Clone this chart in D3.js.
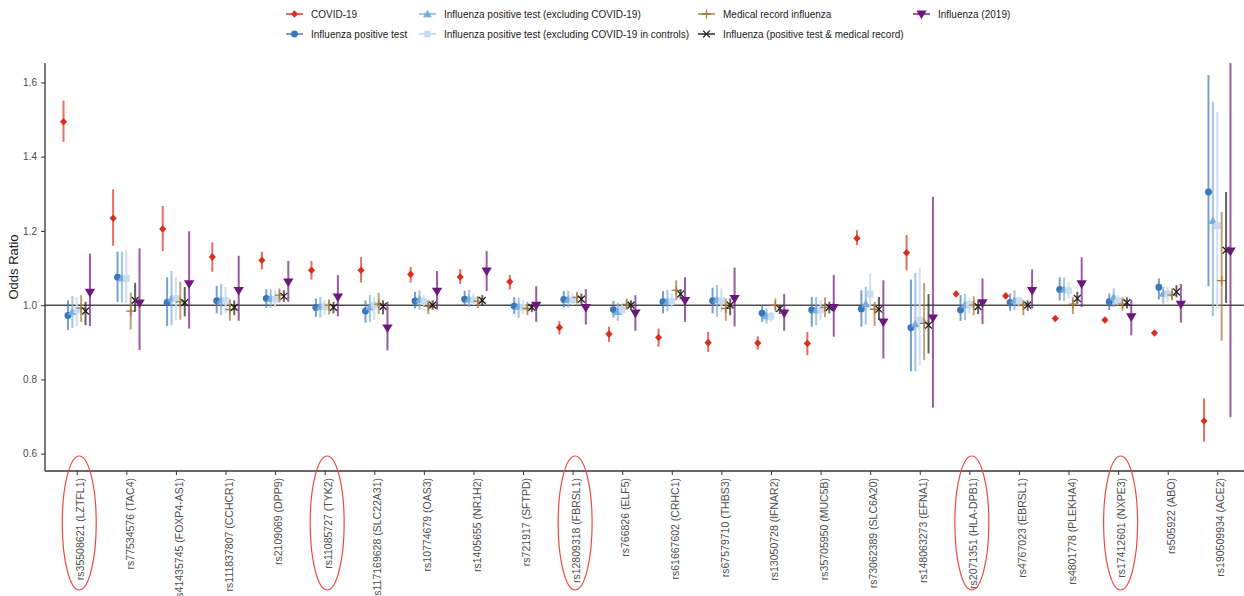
<!DOCTYPE html>
<html>
<head>
<meta charset="utf-8">
<script src="https://d3js.org/d3.v7.min.js"></script>
<style>
    html, body { margin: 0; padding: 0; background: #fff; }
    svg { display: block; font-family: "Liberation Sans", Arial, sans-serif; }
</style>
</head>
<body>
<script>
// SNP categories along the x axis
var snps = [
    "rs35508621 (LZTFL1)", "rs77534576 (TAC4)", "rs41435745 (FOXP4-AS1)", "rs111837807 (CCHCR1)",
    "rs2109069 (DPP9)", "rs11085727 (TYK2)", "rs117169628 (SLC22A31)", "rs10774679 (OAS3)",
    "rs1405655 (NR1H2)", "rs721917 (SFTPD)", "rs12809318 (FBRSL1)", "rs766826 (ELF5)",
    "rs61667602 (CRHC1)", "rs67579710 (THBS3)", "rs13050728 (IFNAR2)", "rs35705950 (MUC5B)",
    "rs73062389 (SLC6A20)", "rs148063273 (EFNA1)", "rs2071351 (HLA-DPB1)", "rs4767023 (EBRSL1)",
    "rs4801778 (PLEKHA4)", "rs17412601 (NXPE3)", "rs505922 (ABO)", "rs190509934 (ACE2)"
];

// labels circled in red
var circled = ["rs35508621 (LZTFL1)", "rs11085727 (TYK2)", "rs12809318 (FBRSL1)",
    "rs2071351 (HLA-DPB1)", "rs17412601 (NXPE3)"];

// [odds ratio, lower CI, upper CI] per SNP
var covid19 = [
    [1.494, 1.440, 1.551], [1.234, 1.160, 1.312], [1.205, 1.146, 1.267], [1.130, 1.090, 1.169],
    [1.121, 1.096, 1.144], [1.094, 1.069, 1.119], [1.094, 1.061, 1.129], [1.083, 1.061, 1.103],
    [1.076, 1.057, 1.097], [1.063, 1.042, 1.081], [0.940, 0.921, 0.957], [0.922, 0.901, 0.942],
    [0.913, 0.888, 0.937], [0.899, 0.874, 0.928], [0.898, 0.880, 0.916], [0.897, 0.865, 0.928],
    [1.180, 1.162, 1.202], [1.141, 1.094, 1.189], [1.030, 1.024, 1.036], [1.025, 1.019, 1.031],
    [0.964, 0.958, 0.970], [0.960, 0.954, 0.966], [0.925, 0.919, 0.931], [0.688, 0.632, 0.749]
];
var fluPositive = [
    [0.972, 0.933, 1.013], [1.075, 1.009, 1.144], [1.007, 0.944, 1.075], [1.012, 0.978, 1.052],
    [1.018, 0.993, 1.043], [0.994, 0.968, 1.018], [0.984, 0.953, 1.013], [1.011, 0.991, 1.036],
    [1.016, 1.000, 1.039], [0.997, 0.976, 1.022], [1.015, 0.994, 1.038], [0.988, 0.967, 1.011],
    [1.009, 0.978, 1.038], [1.012, 0.978, 1.047], [0.978, 0.955, 1.000], [0.987, 0.942, 1.022],
    [0.990, 0.942, 1.040], [0.939, 0.822, 1.069], [0.987, 0.958, 1.027], [1.007, 0.985, 1.031],
    [1.042, 1.013, 1.075], [1.009, 0.987, 1.031], [1.048, 1.015, 1.072], [1.305, 1.051, 1.620]
];
var fluExclCovid = [
    [0.982, 0.938, 1.025], [1.073, 1.007, 1.144], [1.018, 0.946, 1.092], [1.013, 0.973, 1.058],
    [1.018, 0.993, 1.043], [0.996, 0.967, 1.022], [0.995, 0.955, 1.027], [1.015, 0.988, 1.040],
    [1.016, 0.995, 1.041], [0.996, 0.965, 1.020], [1.015, 0.994, 1.038], [0.982, 0.958, 1.007],
    [1.009, 0.983, 1.041], [1.015, 0.968, 1.054], [0.971, 0.950, 0.991], [0.987, 0.946, 1.022],
    [1.003, 0.948, 1.050], [0.949, 0.822, 1.087], [1.000, 0.960, 1.030], [1.013, 0.987, 1.040],
    [1.042, 1.011, 1.075], [1.021, 0.995, 1.045], [1.031, 1.004, 1.049], [1.227, 0.970, 1.548]
];
var fluExclCovidControls = [
    [0.987, 0.942, 1.022], [1.072, 1.006, 1.148], [1.018, 0.960, 1.076], [1.013, 0.978, 1.049],
    [1.016, 0.995, 1.040], [0.996, 0.973, 1.013], [1.000, 0.960, 1.021], [1.010, 0.995, 1.027],
    [1.014, 1.000, 1.031], [0.994, 0.976, 1.013], [1.014, 1.000, 1.031], [0.988, 0.975, 1.002],
    [1.010, 0.994, 1.031], [1.012, 0.982, 1.045], [0.970, 0.955, 0.982], [0.987, 0.960, 1.013],
    [1.030, 0.995, 1.084], [0.960, 0.838, 1.099], [1.002, 0.978, 1.018], [1.012, 0.994, 1.022],
    [1.039, 1.018, 1.063], [1.012, 1.000, 1.027], [1.031, 1.009, 1.049], [1.214, 0.990, 1.521]
];
var medicalRecord = [
    [0.992, 0.955, 1.027], [0.984, 0.934, 1.034], [1.009, 0.961, 1.063], [0.988, 0.958, 1.016],
    [1.027, 1.007, 1.045], [1.000, 0.975, 1.016], [1.003, 0.976, 1.033], [0.997, 0.976, 1.013],
    [1.011, 0.991, 1.024], [0.991, 0.973, 1.009], [1.021, 1.004, 1.036], [1.002, 0.987, 1.018],
    [1.040, 1.013, 1.067], [0.991, 0.958, 1.018], [1.000, 0.982, 1.018], [0.994, 0.968, 1.021],
    [0.989, 0.944, 1.009], [0.951, 0.852, 1.060], [1.000, 0.973, 1.024], [1.000, 0.973, 1.013],
    [1.003, 0.976, 1.022], [1.003, 0.985, 1.021], [1.027, 1.013, 1.045], [1.066, 0.904, 1.251]
];
var fluTestAndRecord = [
    [0.984, 0.946, 1.009], [1.013, 0.982, 1.060], [1.007, 0.970, 1.049], [0.994, 0.973, 1.013],
    [1.024, 1.009, 1.040], [0.994, 0.978, 1.009], [0.997, 0.975, 1.013], [1.000, 0.988, 1.013],
    [1.013, 1.000, 1.027], [0.994, 0.981, 1.004], [1.016, 1.003, 1.031], [1.000, 0.987, 1.013],
    [1.030, 1.016, 1.043], [1.000, 0.973, 1.018], [0.991, 0.976, 1.000], [0.994, 0.978, 1.009],
    [0.989, 0.960, 1.022], [0.946, 0.870, 1.030], [0.996, 0.976, 1.013], [1.000, 0.985, 1.013],
    [1.018, 1.004, 1.036], [1.007, 0.991, 1.021], [1.036, 1.021, 1.054], [1.148, 1.006, 1.305]
];
var flu2019 = [
    [1.035, 0.944, 1.139], [1.006, 0.879, 1.153], [1.058, 0.937, 1.199], [1.040, 0.958, 1.133],
    [1.063, 1.009, 1.119], [1.022, 0.970, 1.081], [0.939, 0.878, 1.009], [1.038, 0.988, 1.092],
    [1.092, 1.038, 1.146], [1.000, 0.955, 1.051], [0.994, 0.948, 1.043], [0.979, 0.931, 1.027],
    [1.013, 0.955, 1.075], [1.018, 0.943, 1.101], [0.979, 0.931, 1.030], [0.994, 0.915, 1.081],
    [0.955, 0.856, 1.067], [0.966, 0.724, 1.292], [1.007, 0.949, 1.072], [1.040, 0.991, 1.096],
    [1.058, 0.995, 1.129], [0.969, 0.919, 1.015], [1.003, 0.953, 1.057], [1.146, 0.698, 1.660]
];

var seriesNames = [
    "COVID-19",
    "Influenza positive test",
    "Influenza positive test (excluding COVID-19)",
    "Influenza positive test (excluding COVID-19 in controls)",
    "Medical record influenza",
    "Influenza (positive test & medical record)",
    "Influenza (2019)"
];
var seriesData = [covid19, fluPositive, fluExclCovid, fluExclCovidControls,
    medicalRecord, fluTestAndRecord, flu2019];

var yTicks = [0.6, 0.8, 1.0, 1.2, 1.4, 1.6];

(function () {
    "use strict";

    var width = 1244, height = 596;
    var margin = {top: 63, right: -3, bottom: 125, left: 45};
    var plotW = width - margin.left - margin.right;
    var plotH = height - margin.top - margin.bottom;

    // look of each series
    var styles = [
        {color: "#d7301f", shape: "diamond"},
        {color: "#3a78bb", shape: "circle"},
        {color: "#78acdb", shape: "triangle"},
        {color: "#c8dcf0", shape: "square"},
        {color: "#a8773c", shape: "plus"},
        {color: "#1e1e1e", shape: "cross"},
        {color: "#6b1a7b", shape: "down"}
    ];

    var shapes = {
        diamond: "M0,-3.8L3.6,0L0,3.8L-3.6,0Z",
        circle: d3.symbol().type(d3.symbolCircle).size(38)(),
        triangle: "M0,-4.3L4.4,3.2L-4.4,3.2Z",
        square: "M-3.3,-3.3H3.3V3.3H-3.3Z",
        plus: "M-4.6,0H4.6M0,-4.6V4.6",
        cross: "M-3.4,-3.4L3.4,3.4M-3.4,3.4L3.4,-3.4",
        down: "M-5.2,-3.4H5.2L0,5.3Z"
    };
    var stroked = {plus: true, cross: true};

    var svg = d3.select("body").append("svg")
            .attr("width", width)
            .attr("height", height);

    var g = svg.append("g")
            .attr("transform", "translate(" + margin.left + "," + margin.top + ")");

    var x = d3.scalePoint()
            .domain(snps)
            .range([0, plotW + 2])
            .padding(0.64);

    var y = d3.scaleLinear()
            .domain([0.5533, 1.6523])
            .range([plotH, 0]);

    var dodge = 4.4;

    g.append("defs").append("clipPath")
            .attr("id", "clipBox")
            .append("rect")
            .attr("width", plotW)
            .attr("height", plotH);

    // reference line at OR = 1
    g.append("line")
            .attr("x1", 0).attr("x2", plotW)
            .attr("y1", y(1)).attr("y2", y(1))
            .attr("stroke", "#4d4d4d")
            .attr("stroke-width", 1.5);

    var marks = g.append("g").attr("clip-path", "url(#clipBox)");

    function drawMarker(sel, style) {
        sel.append("path")
                .attr("d", shapes[style.shape])
                .attr("fill", stroked[style.shape] ? "none" : style.color)
                .attr("stroke", stroked[style.shape] ? style.color : "none")
                .attr("stroke-width", 1.3);
    }

    seriesData.forEach(function (data, si) {
        var style = styles[si];
        var off = (si - 3) * dodge;
        var sg = marks.append("g");

        sg.selectAll("line")
                .data(data)
                .enter().append("line")
                .attr("x1", function (d, i) { return x(snps[i]) + off; })
                .attr("x2", function (d, i) { return x(snps[i]) + off; })
                .attr("y1", function (d) { return y(d[1]); })
                .attr("y2", function (d) { return y(d[2]); })
                .attr("stroke", style.color)
                .attr("stroke-opacity", si === 3 ? 0.9 : 0.7)
                .attr("stroke-width", 2);

        sg.selectAll("g.pt")
                .data(data)
                .enter().append("g")
                .attr("class", "pt")
                .attr("transform", function (d, i) {
                    return "translate(" + (x(snps[i]) + off) + "," + y(d[0]) + ")";
                })
                .each(function () { drawMarker(d3.select(this), style); });
    });

    // axes
    var yAxis = g.append("g")
            .call(d3.axisLeft(y).tickValues(yTicks).tickSize(4).tickPadding(4)
                    .tickFormat(d3.format(".1f")));
    var xAxis = g.append("g")
            .attr("transform", "translate(0," + plotH + ")")
            .call(d3.axisBottom(x).tickSize(4).tickPadding(4));

    [yAxis, xAxis].forEach(function (a) {
        a.select(".domain").attr("stroke", "#333").attr("stroke-width", 1.3);
        a.selectAll(".tick line").attr("stroke", "#333");
        a.selectAll(".tick text")
                .attr("fill", "#4d4d4d")
                .style("font-family", "'Liberation Sans', Arial, sans-serif");
    });
    yAxis.selectAll(".tick text").style("font-size", "10px");
    xAxis.selectAll(".tick text").style("font-size", "10.5px");
    yAxis.select(".domain").attr("d", "M0," + plotH + "V0");
    xAxis.select(".domain").attr("d", "M0,0H" + plotW);

    xAxis.selectAll(".tick text")
            .attr("transform", "rotate(-90)")
            .attr("text-anchor", "end")
            .attr("x", -7)
            .attr("y", 3)
            .attr("dy", "0.35em");

    // red ellipses around highlighted variants
    g.selectAll("ellipse.hl")
            .data(circled)
            .enter().append("ellipse")
            .attr("class", "hl")
            .attr("cx", function (d) { return x(d) + 2.5; })
            .attr("cy", plotH + 52)
            .attr("rx", 17)
            .attr("ry", 67)
            .attr("fill", "none")
            .attr("stroke", "#ec4a40")
            .attr("stroke-width", 1.2);

    // y axis title
    svg.append("text")
            .attr("transform", "translate(18," + (margin.top + plotH / 2) + ") rotate(-90)")
            .attr("text-anchor", "middle")
            .attr("fill", "#1a1a1a")
            .style("font-size", "13px")
            .text("Odds Ratio");

    // legend, two rows
    var legendPos = [
        [311, 14], [311, 34], [444, 14], [444, 34], [723, 14], [723, 34], [938, 14]
    ];
    var legend = svg.append("g");
    seriesNames.forEach(function (name, si) {
        var style = styles[si];
        var item = legend.append("g")
                .attr("transform", "translate(" + legendPos[si][0] + "," + legendPos[si][1] + ")");
        item.append("line")
                .attr("x1", -25).attr("x2", -8)
                .attr("stroke", style.color)
                .attr("stroke-opacity", si === 3 ? 0.9 : 0.7)
                .attr("stroke-width", 2);
        drawMarker(item.append("g").attr("transform", "translate(-16.5,0)"), style);
        item.append("text")
                .attr("dy", "0.35em")
                .attr("fill", "#1a1a1a")
                .style("font-size", "10px")
                .text(name);
    });
})();
</script>
</body>
</html>
